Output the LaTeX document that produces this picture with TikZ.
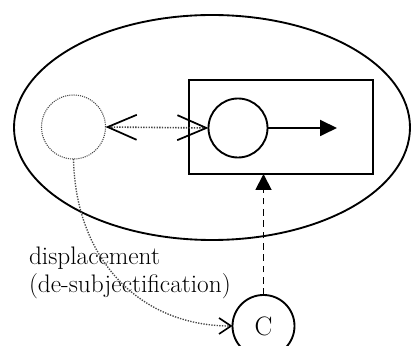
\documentclass[tikz,border=0pt]{standalone}
\usetikzlibrary{arrows.meta}
\definecolor{dispInk}{RGB}{0,0,0}
\definecolor{dispDots}{RGB}{70,70,70}

\begin{document}
\begin{tikzpicture}[x=0.75pt,y=0.75pt,inner sep=0pt,outer sep=0pt,line width=1.4pt,
  spot/.style={circle,draw=dispInk},
  dotline/.style={draw=dispDots,dash pattern=on 1pt off 1pt}]
\useasboundingbox (0,0) rectangle (411,346);
\draw[dispInk] (212,218.5) ellipse [x radius=198,y radius=112.5];
\node[draw=dispInk,minimum width=138pt,minimum height=70.5pt] (frame) at (281,219) {};
\node[spot,minimum size=44.25pt] (self) at (238,218) {};
\coordinate (aim) at (337,218);
\node[spot,draw=dispDots,line width=0.8pt,dash pattern=on 0.8pt off 0.8pt,minimum size=48pt] (ghost) at (73.5,219) {};
\node[spot,minimum size=46.5pt,font=\fontsize{20}{22}\selectfont] (cee) at (263.5,20) {C};
\node[anchor=base west,align=left,font=\fontsize{19}{21}\selectfont] (label) at (29,53) {displacement\\(de-subjectification)};
\draw[-{Triangle[length=12.75pt,width=12pt]}] (self.east) -- (aim);
\draw[dotline,line width=1.2pt,{Straight Barb[length=21.75pt,width=18.75pt,line width=1.3pt,color=dispInk]}-{Straight Barb[length=21.75pt,width=18.75pt,line width=1.3pt,color=dispInk]}] (ghost.east) -- (self.west);
\draw[-{Triangle[length=12pt,width=12pt]},dash pattern=on 5pt off 3.5pt] (cee.north) -- (cee.north |- frame.south);
\draw[dotline,line width=1pt,-{Straight Barb[length=9pt,width=12pt,line width=1.2pt,color=dispInk]}] (ghost.south) .. controls +(2,-101) and +(-92,0) .. (cee.west);
\end{tikzpicture}
\end{document}
